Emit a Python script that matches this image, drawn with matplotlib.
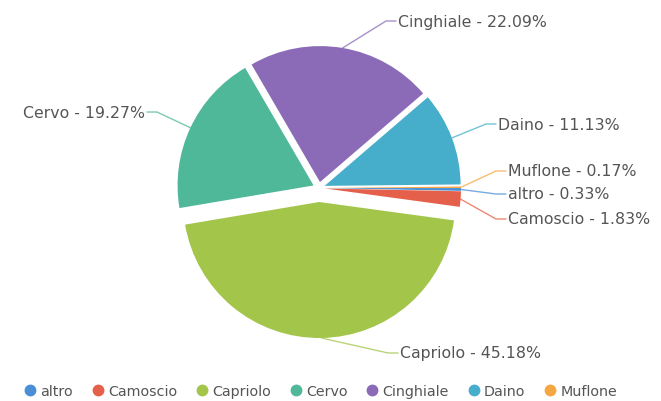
import numpy as np
import matplotlib.pyplot as plt
from matplotlib.lines import Line2D

# species shares (percent), in the order they are drawn clockwise
species = ['altro', 'Camoscio', 'Capriolo', 'Cervo', 'Cinghiale', 'Daino', 'Muflone']
shares = [0.33, 1.83, 45.18, 19.27, 22.09, 11.13, 0.17]
colors = ['#4a8fd6', '#e5604a', '#a3c54a', '#4fb899', '#8b6bb8', '#46aecb', '#f5a742']

W, H = 661, 402
fig = plt.figure(figsize=(W / 100, H / 100), dpi=100)
ax = fig.add_axes([0, 0, 1, 1])

cx, cy, R = 319, H - 189, 136
# slice offsets in pixels (pie() treats explode as absolute data units)
explode = [6] * len(species)
explode[species.index('Capriolo')] = 14

wedges, _ = ax.pie(shares, colors=colors, startangle=0, counterclock=False,
                   radius=R, center=(cx, cy), explode=explode,
                   wedgeprops=dict(linewidth=0))

# pie() resets the limits, so work in pixel units afterwards
ax.set_xlim(0, W)
ax.set_ylim(0, H)
ax.set_aspect('equal')
ax.axis('off')

# label placement: (text x, text y from top, alignment)
label_pos = {
    'altro': (508, 195, 'left'),
    'Camoscio': (508, 220, 'left'),
    'Capriolo': (400, 354, 'left'),
    'Cervo': (145, 113, 'right'),
    'Cinghiale': (398, 22, 'left'),
    'Daino': (498, 125, 'left'),
    'Muflone': (508, 172, 'left'),
}

txt_color = '#555555'
for w, name, val, col, ex in zip(wedges, species, shares, colors, explode):
    mid = np.deg2rad((w.theta1 + w.theta2) / 2)
    ex0 = cx + (R + ex) * np.cos(mid)
    ey0 = cy + (R + ex) * np.sin(mid)
    lx, ly, ha = label_pos[name]
    ly = H - ly
    d = 1 if ha == 'left' else -1
    ax.plot([ex0, lx - 12 * d, lx - 2 * d], [ey0, ly, ly], color=col,
            lw=1, alpha=0.75, solid_capstyle='round')
    ax.text(lx, ly, f'{name} - {val:.2f}%', ha=ha, va='center',
            fontsize=11.3, color=txt_color)

handles = [Line2D([], [], marker='o', ls='', color=c, markersize=7.5) for c in colors]
fig.legend(handles, species, loc='center', bbox_to_anchor=(0.484, 1 - 392 / H),
           ncol=len(species), frameon=False, fontsize=10.3, handletextpad=0.2,
           columnspacing=1.25, labelcolor=txt_color, handlelength=1.0,
           borderpad=0.1)

fig.savefig('out.png', dpi=100)
